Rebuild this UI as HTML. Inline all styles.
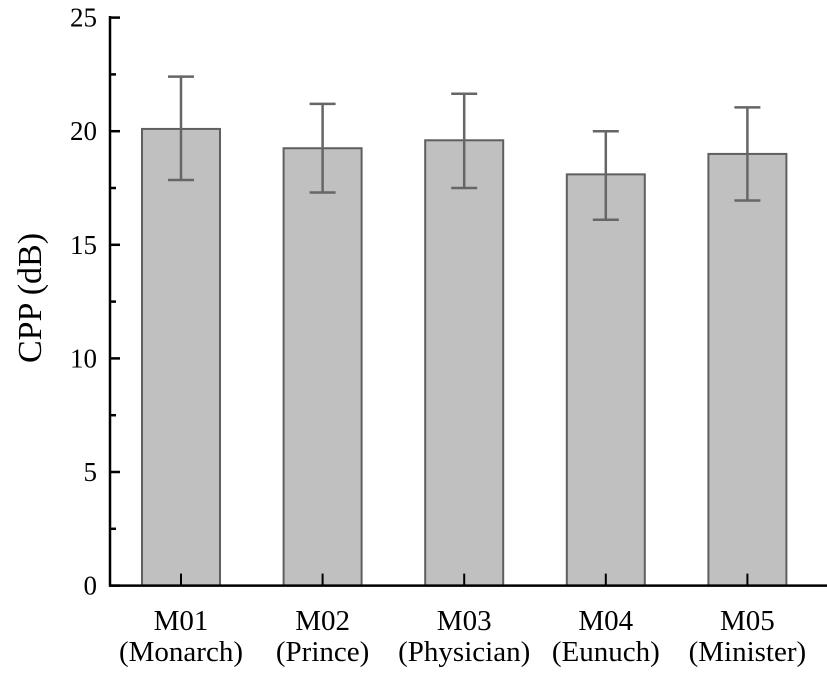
<!DOCTYPE html>
<html><head><meta charset="utf-8"><style>
body{margin:0;background:#fff;}
svg{display:block;font-family:"Liberation Serif",serif;}
</style></head><body>
<svg id="chart" width="827" height="676" viewBox="0 0 827 676" xmlns="http://www.w3.org/2000/svg"></svg>
<script>
const categories = ["M01","M02","M03","M04","M05"];
const subLabels = ["(Monarch)","(Prince)","(Physician)","(Eunuch)","(Minister)"];
const means = [20.1, 19.25, 19.6, 18.1, 19.0];
const upper = [22.4, 21.2, 21.65, 20.0, 21.05];
const lower = [17.85, 17.3, 17.5, 16.1, 16.95];
const yTicks = [0,5,10,15,20,25];
const NS="http://www.w3.org/2000/svg";
const svg=document.getElementById('chart');
const y0=585.6, pxPerUnit=22.72;
function yS(v){return y0-v*pxPerUnit;}
function xS(i){return 181+i*141.6;}
function mk(tag,attrs,parent){const e=document.createElementNS(NS,tag);for(const k in attrs)e.setAttribute(k,attrs[k]);(parent||svg).appendChild(e);return e;}
const barW=78;
categories.forEach((c,i)=>{
  const g=mk('g',{});
  
  
  const b=mk('rect',{x:xS(i)-barW/2,y:yS(means[i]),width:barW,height:y0-yS(means[i]),fill:'#c0c0c0',stroke:'#5f5f5f','stroke-width':2},g);
  
  
  const eb=mk('path',{d:`M${xS(i)},${yS(upper[i])}V${yS(lower[i])}M${xS(i)-13},${yS(upper[i])}h26M${xS(i)-13},${yS(lower[i])}h26`,stroke:'#666','stroke-width':2.5,fill:'none'},g);
  
  
  const tk=mk('line',{x1:xS(i),x2:xS(i),y1:y0,y2:y0-12,stroke:'#000','stroke-width':2},g);
  
  
  const t1=mk('text',{x:xS(i),y:630,'font-size':29,'text-anchor':'middle'},g);t1.textContent=c;
  
  
  const t2=mk('text',{x:xS(i),y:661,'font-size':29,'text-anchor':'middle'},g);t2.textContent=subLabels[i];
  
  
});
const ya=mk('line',{x1:110,x2:110,y1:16,y2:y0+1,stroke:'#000','stroke-width':2.5});


for(let v=0;v<=25;v+=2.5){
  const major=v%5===0;
  const l=mk('line',{x1:110,x2:major?120:116,y1:yS(v),y2:yS(v),stroke:'#000','stroke-width':2.5});
  
  
}
yTicks.forEach(v=>{
  const t=mk('text',{x:97,y:yS(v)+9,'font-size':27,'text-anchor':'end'});t.textContent=v;
  
  
});
const xa=mk('line',{x1:109,x2:827,y1:y0,y2:y0,stroke:'#000','stroke-width':2.5});


const yt=mk('text',{x:0,y:0,'font-size':34,'text-anchor':'middle',transform:'translate(41,298) rotate(-90)'});
yt.textContent='CPP (dB)';


</script>
</body></html>
